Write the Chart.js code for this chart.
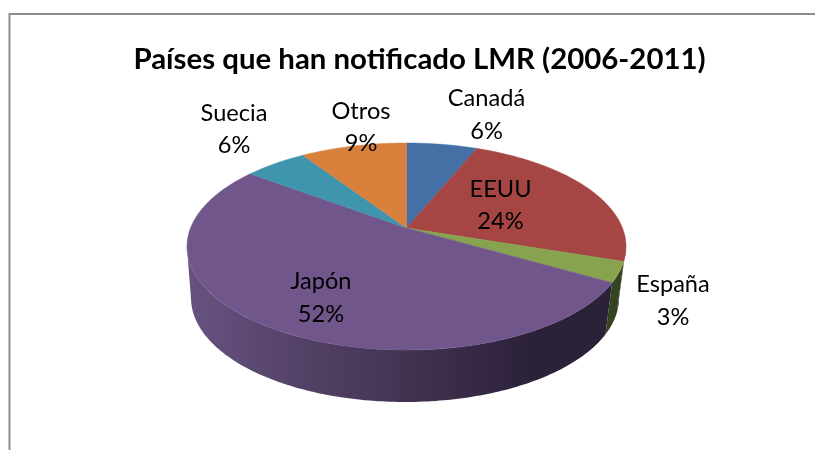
<!DOCTYPE html>
<html><head><meta charset="utf-8">
<style>html,body{margin:0;padding:0;background:#fff;overflow:hidden}#w{width:815px;height:450px;position:relative}</style>
<script src="https://cdn.jsdelivr.net/npm/chart.js@4"></script>
</head><body><div id="w"><canvas id="c" width="815" height="450"></canvas></div>
<script>
const titleText = 'Países que han notificado LMR (2006-2011)';
const categories = ['Canadá','EEUU','España','Japón','Suecia','Otros'];
const values = [6.2,23.9,3.2,51.9,5.5,9.3];
const percentLabels = ['6%','24%','3%','52%','6%','9%'];
const topColors = ['#4570a6','#a64644','#87a34f','#71568c','#4095ae','#d9803c'];
const wallLight = ['#3a5d8a','#8a3a38','#4c5c2c','#67527f','#35788c','#b06a30'];
const wallDark  = ['#1e3048','#4a1e1d','#364320','#2a2036','#1c3f4a','#5c3719'];

// presentation geometry of the tilted pie
const TOP = {cx:406.5, cy:246.5, rx:219.5, ry:103.5};
const BOT = {cx:405, cy:298, rx:214, ry:104};
const TILT = -0.179; // perspective shift of the pie's centre
const LABEL_POS = [[486.5,115],[500.5,205.5],[673,301],[321,298],[234,129.5],[361,127.5]];
const LABEL_LH = 32.5;

function project(theta){ // library angle -> point on unit disk after perspective
  const u=Math.cos(theta), v=Math.sin(theta), s=TILT, d=1+s*v;
  return [u*Math.sqrt(1-s*s)/d,(v+s)/d];
}
function onE(E,p){return [E.cx+E.rx*p[0],E.cy+E.ry*p[1]];}

const pie3d = {
  id:'pie3d',
  beforeDatasetsDraw(chart){
    const ctx=chart.ctx, arcs=chart.getDatasetMeta(0).data;
    ctx.save();
    // side wall, only the part of each slice facing the viewer
    arcs.forEach((arc,i)=>{
      const a=arc.startAngle,b=arc.endAngle,N=200,top=[],bot=[];
      for(let k=0;k<=N;k++){
        const p=project(a+(b-a)*k/N);
        if(p[1]<0) continue;
        top.push(onE(TOP,p)); bot.push(onE(BOT,p));
      }
      if(top.length<2) return;
      const g=ctx.createLinearGradient(BOT.cx-BOT.rx,0,BOT.cx+BOT.rx,0);
      if(i===3){
        g.addColorStop(0,'#67527f');g.addColorStop(0.3,'#503f63');g.addColorStop(0.62,'#3a2c49');g.addColorStop(0.8,'#2b2138');g.addColorStop(1,'#2b2138');
      } else {
        g.addColorStop(0,wallLight[i]);g.addColorStop(1,wallDark[i]);
      }
      ctx.fillStyle=g; ctx.beginPath();
      top.forEach((q,k)=>k?ctx.lineTo(q[0],q[1]):ctx.moveTo(q[0],q[1]));
      bot.reverse().forEach(q=>ctx.lineTo(q[0],q[1]));
      ctx.closePath(); ctx.fill();
    });
    // top face
    const apex=onE(TOP,[0,TILT]);
    arcs.forEach((arc,i)=>{
      const a=arc.startAngle,b=arc.endAngle,N=120;
      ctx.fillStyle=topColors[i]; ctx.strokeStyle=topColors[i]; ctx.lineWidth=0.5;
      ctx.beginPath(); ctx.moveTo(apex[0],apex[1]);
      for(let k=0;k<=N;k++){const q=onE(TOP,project(a+(b-a)*k/N));ctx.lineTo(q[0],q[1]);}
      ctx.closePath(); ctx.fill(); ctx.stroke();
    });
    ctx.restore();
    return false;
  },
  afterDraw(chart){
    const ctx=chart.ctx;
    ctx.save();
    ctx.fillStyle='#000'; ctx.font='23.6px Lato'; ctx.textAlign='center'; ctx.textBaseline='middle';
    categories.forEach((c,i)=>{
      const [x,y]=LABEL_POS[i];
      ctx.fillText(c,x,y-LABEL_LH/2);
      ctx.fillText(percentLabels[i],x,y+LABEL_LH/2);
    });
    ctx.restore();
  }
};
const frame = {
  id:'frame',
  beforeDraw(chart){
    const ctx=chart.ctx;
    ctx.save(); ctx.strokeStyle='#8c8c8c'; ctx.lineWidth=2;
    ctx.beginPath(); ctx.moveTo(9.5,450); ctx.lineTo(9.5,14); ctx.lineTo(815,14); ctx.stroke();
    ctx.restore();
  }
};
new Chart(document.getElementById('c'),{
  type:'pie',
  data:{labels:categories,datasets:[{data:values,backgroundColor:topColors,borderWidth:0}]},
  options:{
    responsive:false,animation:false,
    layout:{padding:{left:24,top:42,bottom:50,right:0}},
    plugins:{
      legend:{display:false},tooltip:{enabled:false},
      title:{display:true,text:titleText,color:'#000',font:{family:'Lato',size:29.4,weight:'bold'},padding:{top:0,bottom:10}}
    }
  },
  plugins:[frame,pie3d]
});
</script></body></html>
